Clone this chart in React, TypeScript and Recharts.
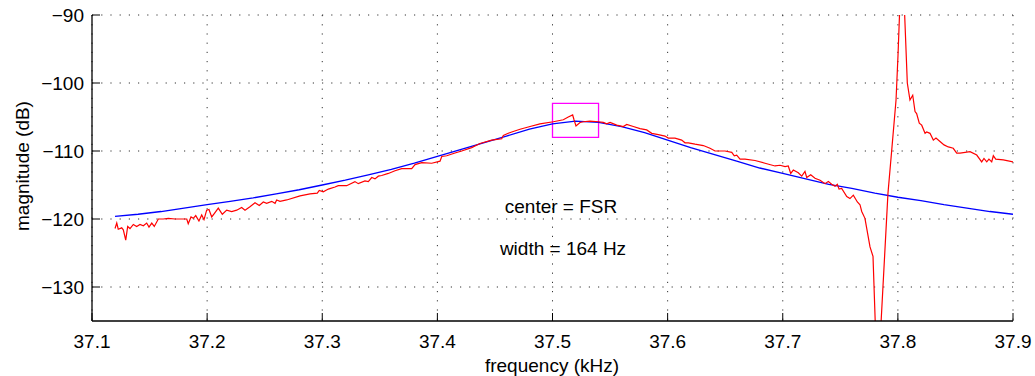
import React from 'react';
import { ComposedChart, Line, XAxis, YAxis, CartesianGrid, ReferenceArea } from 'recharts';

// measured response (red), frequency in kHz / magnitude in dB
const measFreq = [
  37.12, 37.1215, 37.1228, 37.1258, 37.1272, 37.1293, 37.131, 37.133, 37.1359, 37.1388,
  37.1417, 37.1446, 37.1475, 37.1495, 37.1519, 37.1541, 37.1576, 37.1619, 37.1663, 37.1721,
  37.1823, 37.1836, 37.186, 37.188, 37.1901, 37.1929, 37.1953, 37.1973, 37.1996, 37.2016,
  37.204, 37.2062, 37.2097, 37.2132, 37.217, 37.2213, 37.2257, 37.23, 37.2329, 37.2372,
  37.2416, 37.2453, 37.2488, 37.2517, 37.2561, 37.259, 37.2604, 37.2633, 37.2691, 37.2807,
  37.2894, 37.2957, 37.2974, 37.3009, 37.3053, 37.3111, 37.3139, 37.3212, 37.3284, 37.3313,
  37.3371, 37.34, 37.343, 37.3458, 37.3487, 37.3516, 37.3574, 37.3632, 37.369, 37.3777,
  37.3806, 37.3864, 37.3951, 37.4023, 37.4038, 37.4081, 37.4153, 37.4211, 37.4298, 37.437,
  37.4472, 37.4559, 37.4573, 37.4616, 37.4646, 37.4718, 37.4805, 37.4891, 37.5007, 37.5094,
  37.5137, 37.5175, 37.5187, 37.5204, 37.5239, 37.5268, 37.5326, 37.5398, 37.5441, 37.5471,
  37.55, 37.5558, 37.5615, 37.5645, 37.5702, 37.576, 37.5818, 37.5862, 37.5919, 37.5977,
  37.6006, 37.6064, 37.6122, 37.6151, 37.618, 37.6238, 37.631, 37.6368, 37.6412, 37.6498,
  37.6557, 37.6579, 37.66, 37.6629, 37.6672, 37.6759, 37.6846, 37.6933, 37.6976, 37.702,
  37.7048, 37.7069, 37.7092, 37.7135, 37.7165, 37.7193, 37.7208, 37.7243, 37.728, 37.7324,
  37.7367, 37.7396, 37.7425, 37.7454, 37.7474, 37.7489, 37.7512, 37.7556, 37.7584, 37.7613,
  37.7648, 37.7671, 37.7686, 37.7714, 37.7758, 37.7784, 37.7823, 37.7914, 37.7949, 37.7984,
  37.8001, 37.8036, 37.8082, 37.8105, 37.8129, 37.8149, 37.8163, 37.8186, 37.8207, 37.8236,
  37.825, 37.8279, 37.8308, 37.8331, 37.8366, 37.8401, 37.8438, 37.8481, 37.8511, 37.854,
  37.8627, 37.8685, 37.8728, 37.8748, 37.8772, 37.8791, 37.8815, 37.8829, 37.885, 37.8916,
  37.9,
];
const measMag = [
  -121.4, -120.6, -121.5, -121.3, -121.6, -123.1, -121.1, -121.4, -120.8, -121.1,
  -120.8, -121.0, -120.6, -121.2, -120.6, -121.1, -120.0, -120.0, -119.9, -120.0,
  -120.0, -120.7, -119.7, -119.9, -119.5, -120.3, -119.4, -120.1, -118.7, -118.6,
  -119.7, -119.2, -118.4, -119.3, -118.7, -118.9, -118.7, -118.3, -118.7, -118.2,
  -117.6, -118.0, -117.5, -117.7, -117.4, -117.7, -117.2, -117.4, -117.2, -116.6,
  -116.3, -116.2, -115.8, -116.0, -115.6, -115.3, -115.1, -115.1, -114.5, -114.8,
  -114.4, -114.5, -113.9, -114.1, -113.7, -113.6, -113.3, -112.9, -112.6, -112.6,
  -112.0, -111.7, -111.8, -111.5, -110.8, -110.7, -110.3, -110.0, -109.5, -108.9,
  -108.4, -108.2, -107.7, -107.4, -107.2, -106.8, -106.4, -106.0, -105.7, -105.4,
  -105.0, -104.7, -105.4, -106.3, -105.8, -105.7, -105.6, -105.7, -105.8, -106.0,
  -105.8, -106.2, -106.4, -106.1, -106.4, -106.7, -106.9, -107.4, -107.6, -107.8,
  -108.1, -108.1, -108.4, -108.8, -108.8, -109.0, -109.2, -109.6, -110.0, -110.0,
  -110.2, -110.7, -110.6, -111.2, -111.2, -111.4, -111.8, -112.2, -112.1, -112.3,
  -112.2, -113.3, -112.8, -113.2, -113.7, -113.0, -113.9, -113.5, -114.0, -114.3,
  -114.8, -114.5, -114.9, -115.2, -114.9, -115.6, -115.5, -116.7, -117.0, -116.5,
  -117.5, -117.9, -118.9, -119.9, -124.1, -125.5, -145.0, -116.2, -109.4, -102.5,
  -96.0, -80.0, -100.0, -102.5, -101.8, -104.2, -104.5, -105.9, -106.2, -107.4,
  -107.2, -107.4, -108.4, -108.1, -108.6, -109.1, -109.4, -109.6, -110.3, -110.3,
  -110.1, -110.6, -111.6, -111.1, -111.6, -111.2, -111.6, -110.7, -111.2, -111.3,
  -111.6,
];

// fitted curve (blue)
const fitFreq = [
  37.12, 37.14, 37.16, 37.18, 37.2, 37.22, 37.24, 37.26, 37.28, 37.3,
  37.32, 37.34, 37.36, 37.38, 37.4, 37.42, 37.44, 37.46, 37.48, 37.5,
  37.52, 37.54, 37.56, 37.58, 37.6, 37.62, 37.64, 37.66, 37.68, 37.7,
  37.72, 37.74, 37.76, 37.78, 37.8, 37.82, 37.84, 37.86, 37.88, 37.9,
];
const fitMag = [
  -119.6, -119.3, -118.9, -118.4, -117.9, -117.4, -116.9, -116.3, -115.7, -115.0,
  -114.3, -113.5, -112.7, -111.8, -110.8, -109.8, -108.8, -107.8, -106.8, -106.0,
  -105.6, -105.8, -106.4, -107.3, -108.4, -109.5, -110.5, -111.5, -112.5, -113.3,
  -114.1, -114.9, -115.5, -116.2, -116.8, -117.3, -117.9, -118.4, -118.9, -119.3,
];

const xTicks = [37.1, 37.2, 37.3, 37.4, 37.5, 37.6, 37.7, 37.8, 37.9];
const yTicks = [-130, -120, -110, -100, -90];

// highlighted box around the center
const boxFreq = [37.5, 37.54];
const boxMag = [-108, -103];

const measData = measFreq.map((f, i) => ({ f, db: measMag[i] }));
const fitData = fitFreq.map((f, i) => ({ f, db: fitMag[i] }));

const FONT = '"Liberation Sans", Arial, sans-serif';
const FS = 19;

const BottomTick = (props: any) => {
  const { x, y, payload } = props;
  return (
    <g>
      <line x1={x} y1={y} x2={x} y2={y - 8} stroke="#000" />
      <text x={x} y={y + 27} textAnchor="middle" fontFamily={FONT} fontSize={FS} fill="#000">
        {payload.value.toFixed(1)}
      </text>
    </g>
  );
};

const TopTick = (props: any) => {
  const { x, y } = props;
  return <line x1={x} y1={y} x2={x} y2={y + 8} stroke="#000" />;
};

const LeftTick = (props: any) => {
  const { x, y, payload } = props;
  const v = payload.value;
  return (
    <g>
      <line x1={x} y1={y} x2={x + 8} y2={y} stroke="#000" />
      <text x={x - 8} y={y + 7} textAnchor="end" fontFamily={FONT} fontSize={FS} fill="#000">
        {v < 0 ? '\u2212' + Math.abs(v) : v}
      </text>
    </g>
  );
};

const RightTick = (props: any) => {
  const { x, y } = props;
  return <line x1={x} y1={y} x2={x - 8} y2={y} stroke="#000" />;
};

const textStyle: React.CSSProperties = {
  position: 'absolute',
  fontFamily: FONT,
  fontSize: FS,
  color: '#000',
  whiteSpace: 'nowrap',
  transform: 'translate(-50%, -50%)',
  lineHeight: 1,
};

export default function App() {
  return (
    <div style={{ position: 'absolute', left: 0, top: 0, width: 1035, height: 376, background: '#fff' }}>
      <ComposedChart
        width={1035}
        height={376}
        margin={{ top: 15, right: 22, bottom: 0, left: 0 }}
      >
        <CartesianGrid stroke="#333" strokeDasharray="1.2 8" horizontalValues={yTicks} verticalValues={xTicks} />
        <XAxis
          type="number"
          dataKey="f"
          domain={[37.1, 37.9]}
          ticks={xTicks}
          allowDataOverflow
          height={55}
          tickSize={0}
          tickMargin={0}
          tickLine={false}
          axisLine={{ stroke: '#000', strokeWidth: 1.3 }}
          tick={<BottomTick />}
          interval={0}
          label={() => (
            <text x={552} y={372} textAnchor="middle" fontFamily={FONT} fontSize={FS} fill="#000">
              frequency (kHz)
            </text>
          )}
        />
        <XAxis
          xAxisId="top"
          orientation="top"
          type="number"
          dataKey="f"
          domain={[37.1, 37.9]}
          ticks={xTicks}
          allowDataOverflow
          height={0}
          tickSize={0}
          tickMargin={0}
          tickLine={false}
          axisLine={{ stroke: '#000', strokeWidth: 1.3 }}
          tick={<TopTick />}
          interval={0}
        />
        <YAxis
          type="number"
          domain={[-135, -90]}
          ticks={yTicks}
          allowDataOverflow
          width={92}
          tickSize={0}
          tickMargin={0}
          tickLine={false}
          axisLine={{ stroke: '#000', strokeWidth: 1.3 }}
          tick={<LeftTick />}
          interval={0}
          label={() => (
            <text
              x={29}
              y={166}
              textAnchor="middle"
              fontFamily={FONT}
              fontSize={FS}
              fill="#000"
              transform="rotate(-90 29 166)"
            >
              magnitude (dB)
            </text>
          )}
        />
        <YAxis
          yAxisId="right"
          orientation="right"
          type="number"
          domain={[-135, -90]}
          ticks={yTicks}
          allowDataOverflow
          width={0}
          tickSize={0}
          tickMargin={0}
          tickLine={false}
          axisLine={{ stroke: '#000', strokeWidth: 1.3 }}
          tick={<RightTick />}
          interval={0}
        />
        <Line
          data={fitData}
          dataKey="db"
          type="linear"
          stroke="#0000ff"
          strokeWidth={1.3}
          dot={false}
          activeDot={false}
          isAnimationActive={false}
        />
        <Line
          data={measData}
          dataKey="db"
          type="linear"
          stroke="#ff0000"
          strokeWidth={1.2}
          dot={false}
          activeDot={false}
          isAnimationActive={false}
        />
        <ReferenceArea
          x1={boxFreq[0]}
          x2={boxFreq[1]}
          y1={boxMag[0]}
          y2={boxMag[1]}
          fill="none"
          fillOpacity={0}
          stroke="#ff00ff"
          strokeWidth={1.3}
        />
      </ComposedChart>
      <div style={{ ...textStyle, left: 561, top: 206 }}>center = FSR</div>
      <div style={{ ...textStyle, left: 563, top: 248 }}>width = 164 Hz</div>
    </div>
  );
}
